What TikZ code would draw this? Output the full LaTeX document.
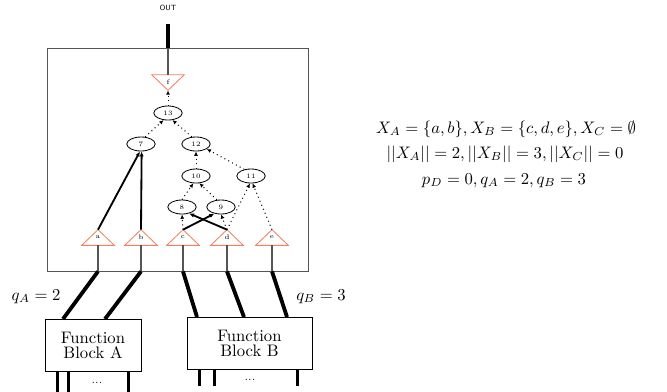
\documentclass[tikz,border=0pt]{standalone}
\usetikzlibrary{arrows.meta,shapes.geometric,calc}
\definecolor{tricol}{RGB}{240,128,96}
\definecolor{boxgray}{RGB}{85,85,85}
\begin{document}
\begin{tikzpicture}[x=0.6pt,y=-0.6pt,
  tri/.style={minimum width=19.2pt,minimum height=9pt,inner sep=0pt,font=\fontsize{4}{4}\selectfont},
  ell/.style={ellipse,draw,line width=0.5pt,minimum width=17pt,minimum height=8.4pt,inner sep=0pt,font=\fontsize{4}{4}\selectfont},
  dotarr/.style={dotted,line width=0.6pt,-{Latex[length=2.6pt,width=2.4pt]}},
  thkarr/.style={line width=1.1pt,-{Latex[length=3pt,width=2.6pt]}},
  bus/.style={line width=2.3pt},
  stem/.style={line width=0.7pt,boxgray},
  fblock/.style={draw,line width=0.6pt,inner sep=0pt,align=center,font=\fontsize{10}{9}\selectfont}
]
\useasboundingbox (0,0) rectangle (667,391);

% main box
\node[draw=boxgray,line width=0.5pt,minimum width=156.6pt,minimum height=133.8pt,inner sep=0pt] (box) at (177.5,159.5) {};

% OUT
\node[font=\sffamily\fontsize{4.5}{5}\selectfont] (out) at (168,8) {OUT};

% triangles
\node[tri] (f) at (168,82.5) {\raisebox{1pt}{f}};
\node[tri] (a) at (98,237.5) {\raisebox{-1.2pt}{a}};
\node[tri] (b) at (141,237.5) {\raisebox{-1.2pt}{b}};
\node[tri] (c) at (183,237.5) {\raisebox{-1.2pt}{c}};
\node[tri] (d) at (227,237.5) {\raisebox{-1.2pt}{d}};
\node[tri] (e) at (272,237.5) {\raisebox{-1.2pt}{e}};
\foreach \n in {a,b,c,d,e}
  \draw[tricol,line width=0.5pt] (\n.south west) -- (\n.south east) -- (\n.north) -- cycle;
\draw[tricol,line width=0.5pt] (f.north west) -- (f.north east) -- (f.south) -- cycle;

\coordinate (outtop) at (168,24);

% ellipses
\node[ell] (n13) at (168,113) {13};
\node[ell] (n7) at (141,144) {7};
\node[ell] (n12) at (196,144) {12};
\node[ell] (n10) at (196,176) {10};
\node[ell] (n11) at (251,176) {11};
\node[ell] (n8) at (182,207) {8};
\node[ell] (n9) at (221,207) {9};

% output line
\draw[bus] (outtop) -- (f.north |- box.north);
\draw[stem] (f.north |- box.north) -- (f.north);

% dotted edges
\draw[dotarr] (n13.north) -- (f.south);
\draw[dotarr] (n7.60) -- (n13.238);
\draw[dotarr] (n12.120) -- (n13.302);
\draw[dotarr] (n10.north) -- (n12.south);
\draw[dotarr] (n11.135) -- (n12.335);
\draw[dotarr] (n8.north) -- (n10.250);
\draw[dotarr] (n9.120) -- (n10.295);
\draw[dotarr] (c.north) -- (n8.south);
\draw[dotarr] (d.north) -- (n9.south);
\draw[dotarr] (d.north) -- (n11.262);
\draw[dotarr] (e.north) -- (n11.282);

% thick edges
\draw[thkarr] (a.north) -- (n7.262);
\draw[thkarr] (b.north) -- (n7.275);
\draw[thkarr] (c.north) -- (n9.225);
\draw[thkarr] (d.north) -- (n8.318);

% stems to box bottom
\foreach \n in {a,b,c,d,e}
  \draw[stem] (\n.south) -- (\n.south |- box.south);

% function blocks
\node[fblock,minimum width=57.6pt,minimum height=31.2pt] (FA) at (93,345) {Function\\Block A};
\node[fblock,minimum width=75pt,minimum height=31.2pt] (FB) at (249.5,343) {Function\\Block B};

% bus lines
\coordinate (ta) at (63,319);
\coordinate (tb) at (105,319);
\coordinate (tc) at (197,317);
\coordinate (td) at (244,317);
\coordinate (te) at (287,317);
\draw[bus] (a.south |- box.south) -- (ta);
\draw[bus] (b.south |- box.south) -- (tb);
\draw[bus] (c.south |- box.south) -- (tc);
\draw[bus] (d.south |- box.south) -- (td);
\draw[bus] (e.south |- box.south) -- (te);

% bottom stubs
\foreach \x in {13,24,84}
  \draw[bus] ($(FA.south west)+(\x,0)$) -- ++(0,20);
\foreach \x in {13,28,111}
  \draw[bus] ($(FB.south west)+(\x,0)$) -- ++(0,16);
\node[font=\fontsize{6}{6}\selectfont,anchor=base] (dA) at (97,383) {...};
\node[font=\fontsize{6}{6}\selectfont,anchor=base] (dB) at (250,380) {...};

% labels
\node[anchor=base] (qa) at (36,300) {$q_A = 2$};
\node[anchor=base] (qb) at (321,300) {$q_B = 3$};

\node[anchor=base] (t1) at (506,133) {$X_A=\{a,b\}, X_B=\{c,d,e\}, X_C=\emptyset$};
\node[anchor=base] (t2) at (505,158) {$||X_A||=2, ||X_B||=3, ||X_C||=0$};
\node[anchor=base] (t3) at (504,184) {$p_D=0, q_A=2, q_B=3$};
\end{tikzpicture}
\end{document}
